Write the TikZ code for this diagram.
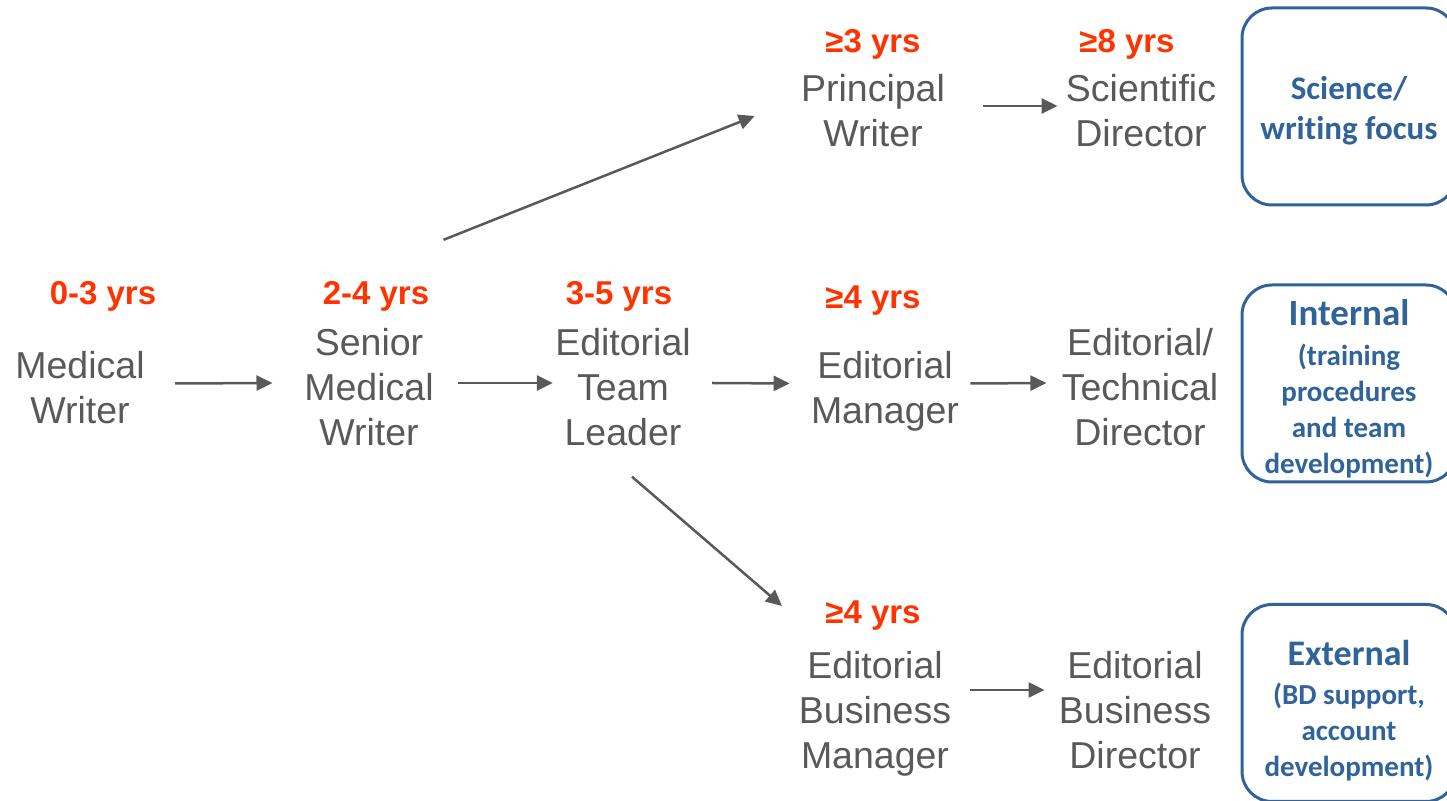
\documentclass[tikz,border=0pt]{standalone}
\usepackage{fontspec}
\setmainfont{Liberation Sans}
\newfontfamily\calibri[Ligatures=NoCommon]{Carlito}
\usetikzlibrary{arrows.meta}
\definecolor{txtgrey}{HTML}{595959}
\definecolor{yrsred}{HTML}{FF3300}
\definecolor{trackblue}{HTML}{2F6399}

\begin{document}
\begin{tikzpicture}[x=0.5pt, y=-0.5pt,
    role/.style={text=txtgrey, align=center, inner sep=0pt, font=\fontsize{18.75}{22.5}\selectfont},
    yrs/.style={text=yrsred, inner sep=0pt, text depth=0pt, font=\fontsize{16.5}{19}\selectfont\bfseries},
    track/.style={draw=trackblue, line width=1.5pt, rounded corners=15pt, minimum width=107pt, minimum height=98.5pt},
    tracktext/.style={text=trackblue, align=center, inner sep=0pt, font=\calibri\bfseries\fontsize{14.5}{18}\selectfont},
    arr/.style={draw=txtgrey, line width=1.25pt, -{Triangle[length=8pt,width=7.5pt]}}]
  \useasboundingbox (0,0) rectangle (1447,801);
  \clip (0,0) rectangle (1447,801);

  % main ladder
  \node[yrs] (y03) at (103,293) {0-3 yrs};
  \node[role] (mw) at (80,387.5) {Medical\\Writer};
  \node[yrs] (y24) at (376,293) {2-4 yrs};
  \node[role] (smw) at (369,387) {Senior\\Medical\\Writer};
  \node[yrs] (y35) at (619,293) {3-5 yrs};
  \node[role] (etl) at (623,387) {Editorial\\Team\\Leader};
  \node[yrs] (y4a) at (873,297) {≥4 yrs};
  \node[role] (em) at (885,391.5) {Editorial\\Manager};
  \node[role] (etd) at (1140,387) {Editorial/\\Technical\\Director};

  % science branch
  \node[yrs] (y3) at (873,41) {≥3 yrs};
  \node[role] (pw) at (873,110.5) {Principal\\Writer};
  \node[yrs] (y8) at (1127,41) {≥8 yrs};
  \node[role] (sd) at (1141,110.5) {Scientific\\Director};

  % business branch
  \node[yrs] (y4b) at (873,612) {≥4 yrs};
  \node[role] (ebm) at (875,714) {Editorial\\Business\\Manager};
  \node[role] (ebd) at (1135,710) {Editorial\\Business\\Director};

  % tracks
  \node[track] (sci) at (1349,106.5) {};
  \node[tracktext, font=\calibri\bfseries\fontsize{16.5}{20}\selectfont] (scit) at ([yshift=-2pt]sci.center) {Science/\\writing focus};
  \node[track] (int) at (1349,383.5) {};
  \node[tracktext] (intt) at ([yshift=-2.5pt]int.center) {{\fontsize{18.5}{20}\selectfont Internal}\\[2pt](training\\procedures\\and team\\development)};
  \node[track] (ext) at (1349,703) {};
  \node[tracktext] (extt) at ([yshift=-4pt]ext.center) {{\fontsize{18}{20}\selectfont External}\\[1.5pt](BD support,\\account\\development)};

  \draw[arr] ([shift={(15pt,2pt)}]mw.east) -- ([shift={(-15.75pt,2pt)}]smw.west);
  \draw[arr] ([shift={(11.75pt,2pt)}]smw.east) -- ([shift={(-1pt,2pt)}]etl.west);
  \draw[arr] ([shift={(10.5pt,2pt)}]etl.east) -- ([shift={(-10.5pt,4pt)}]em.west);
  \draw[arr] ([shift={(5.5pt,4pt)}]em.east) -- ([shift={(-7.5pt,2pt)}]etd.west);
  \draw[arr] ([shift={(19pt,2.25pt)}]pw.east) -- ([shift={(-4pt,2.25pt)}]sd.west);
  \draw[arr] ([shift={(9.5pt,12pt)}]ebm.east) -- ([shift={(-7pt,10pt)}]ebd.west);
  \draw[arr] ([shift={(4.75pt,44pt)}]smw.north east) -- ([shift={(-23pt,-2.75pt)}]pw.west);
  \draw[arr] ([shift={(4.5pt,-15.3pt)}]etl.south) -- ([shift={(-21.5pt,3pt)}]y4b.west);
\end{tikzpicture}
\end{document}
